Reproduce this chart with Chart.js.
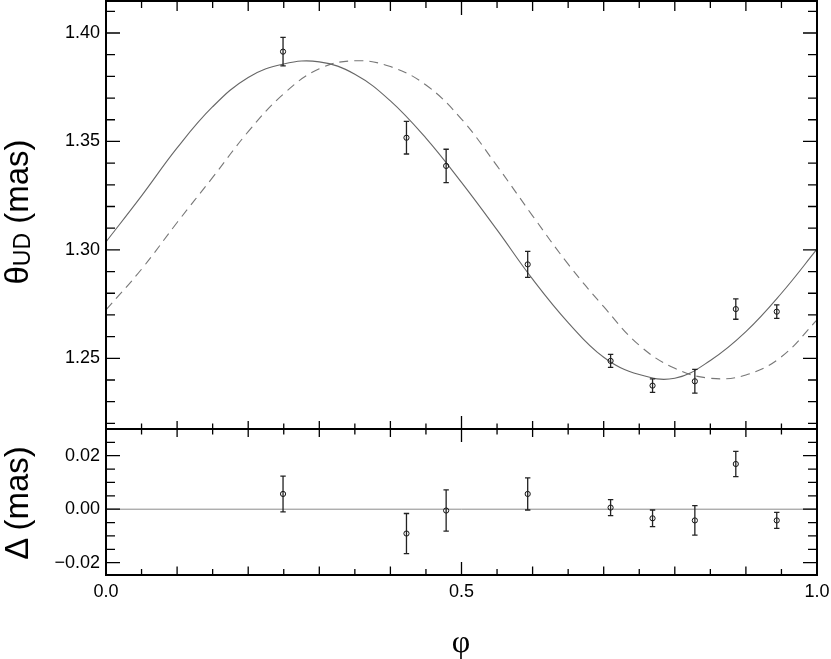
<!DOCTYPE html>
<html>
<head>
<meta charset="utf-8">
<script src="https://cdn.jsdelivr.net/npm/chart.js@4.4.1/dist/chart.umd.min.js"></script>
<style>
  html, body { margin: 0; padding: 0; background: #fff; }
  #wrap { position: relative; width: 831px; height: 659px; overflow: hidden; background: #fff; }
  #wrap canvas { position: absolute; left: 0; top: 0; }
  .ytitle {
    position: absolute; width: 300px; height: 38px; line-height: 38px;
    text-align: center; white-space: nowrap; color: #000;
    font-family: "Liberation Sans", Arial, sans-serif; font-size: 33px;
    transform-origin: 0 0; transform: rotate(-90deg);
  }
  .ytitle .sub { font-size: 23px; position: relative; top: 2px; }
  #xtitle {
    position: absolute; left: 411px; top: 621px; width: 100px; height: 40px; line-height: 40px;
    text-align: center; color: #000;
    font-family: "Liberation Serif", "DejaVu Serif", serif; font-size: 32px;
  }
</style>
</head>
<body>
<div id="wrap">
  <canvas id="panelTop" width="831" height="659"></canvas>
  <canvas id="panelBottom" width="831" height="659"></canvas>
  <div class="ytitle" style="left:-2px; top:362px;">θ<span class="sub">UD</span> (mas)</div>
  <div class="ytitle" style="left:-2px; top:653px;">Δ (mas)</div>
  <div id="xtitle">φ</div>
</div>
<script>
// measured angular diameters
const phase = [0.249, 0.4226, 0.4784, 0.5931, 0.7097, 0.7687, 0.8282, 0.8858, 0.9434];
const diam = [1.3914, 1.3517, 1.3387, 1.2933, 1.2488, 1.2374, 1.2394, 1.2727, 1.2715];
const diamErr = [0.0066, 0.0075, 0.0077, 0.0060, 0.0030, 0.0031, 0.0055, 0.0047, 0.0031];

// residuals
const resid = [0.0057, -0.0091, -0.0005, 0.0057, 0.0006, -0.0034, -0.0042, 0.0169, -0.0042];
const residErr = [0.0067, 0.0075, 0.0077, 0.0060, 0.0030, 0.0031, 0.0055, 0.0047, 0.0030];

// model curves
const curvePhase = [0, 0.05, 0.1, 0.15, 0.2, 0.25, 0.3, 0.35, 0.4, 0.45, 0.5,
  0.55, 0.6, 0.65, 0.7, 0.75, 0.8, 0.85, 0.9, 0.95, 1];
const solidFit = [1.3037, 1.3249, 1.3470, 1.3660, 1.3795, 1.3857, 1.3867, 1.3810, 1.3687, 1.3515, 1.3311,
  1.3092, 1.2865, 1.2665, 1.2505, 1.2425, 1.2408, 1.2490, 1.2623, 1.2800, 1.3003];
const dashedFit = [1.2723, 1.2911, 1.3126, 1.3334, 1.3545, 1.3720, 1.3835, 1.3872, 1.3845, 1.3760, 1.3603,
  1.3387, 1.3157, 1.2934, 1.2738, 1.2560, 1.2454, 1.2408, 1.2423, 1.2507, 1.2677];

// ticks
const xLabels = [0, 0.5, 1];
const xTickMarks = [0.05, 0.1, 0.15, 0.2, 0.25, 0.3, 0.35, 0.4, 0.45, 0.5,
  0.55, 0.6, 0.65, 0.7, 0.75, 0.8, 0.85, 0.9, 0.95];
const topLabels = [1.25, 1.30, 1.35, 1.40];
const topTickMarks = [1.22, 1.23, 1.24, 1.25, 1.26, 1.27, 1.28, 1.29, 1.30, 1.31,
  1.32, 1.33, 1.34, 1.35, 1.36, 1.37, 1.38, 1.39, 1.40, 1.41];
const bottomLabels = [-0.02, 0, 0.02];
const bottomTickMarks = [-0.02, -0.015, -0.01, -0.005, 0, 0.005, 0.01, 0.015, 0.02, 0.025];

const tickFont = { family: "'Liberation Sans', Arial, sans-serif", size: 18 };

function pts(xs, ys) {
  return xs.map((x, i) => ({ x: x, y: ys[i] }));
}

function xTickLen(v, lens) {
  const k = Math.round(v * 20);
  if (k % 10 === 0) return lens[2];
  if (k % 2 === 0) return lens[1];
  return lens[0];
}

// frame with inward ticks on all four sides
function makeFrame(yMarks, yLabels, topLens, bottomLens) {
  return {
    id: "frame",
    afterDraw(chart) {
      const ctx = chart.ctx, a = chart.chartArea;
      const xs = chart.scales.x, ys = chart.scales.y;
      ctx.save();
      ctx.strokeStyle = "#000";
      ctx.lineWidth = 1.3;
      ctx.beginPath();
      yMarks.forEach((v) => {
        const y = ys.getPixelForValue(v);
        const len = yLabels.some((l) => Math.abs(l - v) < 1e-9) ? 14 : 9;
        ctx.moveTo(a.left, y); ctx.lineTo(a.left + len, y);
        ctx.moveTo(a.right, y); ctx.lineTo(a.right - len, y);
      });
      xTickMarks.forEach((v) => {
        const x = xs.getPixelForValue(v);
        ctx.moveTo(x, a.top); ctx.lineTo(x, a.top + xTickLen(v, topLens));
        ctx.moveTo(x, a.bottom); ctx.lineTo(x, a.bottom - xTickLen(v, bottomLens));
      });
      ctx.stroke();
      ctx.lineWidth = 2;
      ctx.strokeRect(a.left, a.top, a.right - a.left, a.bottom - a.top);
      ctx.restore();
    }
  };
}

function makeErrorBars(xv, yv, ev) {
  return {
    id: "errorBars",
    afterDatasetsDraw(chart) {
      const ctx = chart.ctx, xs = chart.scales.x, ys = chart.scales.y;
      ctx.save();
      ctx.strokeStyle = "#222";
      ctx.lineWidth = 1.3;
      ctx.beginPath();
      xv.forEach((v, i) => {
        const px = xs.getPixelForValue(v);
        const lo = ys.getPixelForValue(yv[i] - ev[i]);
        const hi = ys.getPixelForValue(yv[i] + ev[i]);
        ctx.moveTo(px, lo); ctx.lineTo(px, hi);
        ctx.moveTo(px - 2.7, lo); ctx.lineTo(px + 2.7, lo);
        ctx.moveTo(px - 2.7, hi); ctx.lineTo(px + 2.7, hi);
      });
      ctx.stroke();
      ctx.restore();
    }
  };
}

const zeroLine = {
  id: "zeroLine",
  beforeDatasetsDraw(chart) {
    const ctx = chart.ctx, a = chart.chartArea;
    const y = chart.scales.y.getPixelForValue(0);
    ctx.save();
    ctx.strokeStyle = "#8a8a8a";
    ctx.lineWidth = 1;
    ctx.beginPath();
    ctx.moveTo(a.left, y); ctx.lineTo(a.right, y);
    ctx.stroke();
    ctx.restore();
  }
};

function yAxis(min, max, labels, fmt) {
  return {
    type: "linear",
    min: min,
    max: max,
    grid: { display: false, drawTicks: false },
    border: { display: false },
    ticks: { color: "#000", font: tickFont, padding: 6, callback: fmt },
    afterBuildTicks: (s) => { s.ticks = labels.map((v) => ({ value: v })); },
    afterFit: (s) => { s.width = 106; s.paddingTop = 0; s.paddingBottom = 0; }
  };
}

const pointStyle = {
  showLine: false,
  pointRadius: 2.6,
  pointBorderWidth: 1,
  pointBorderColor: "#111",
  pointBackgroundColor: "rgba(255,255,255,0)"
};

// upper panel: diameters and model curves
new Chart(document.getElementById("panelTop"), {
  type: "scatter",
  data: {
    datasets: [
      Object.assign({ label: "θUD", data: pts(phase, diam) }, pointStyle),
      { label: "fit", data: pts(curvePhase, solidFit), showLine: true, borderColor: "#666",
        borderWidth: 1.1, pointRadius: 0, tension: 0.4 },
      { label: "shifted", data: pts(curvePhase, dashedFit), showLine: true, borderColor: "#777",
        borderWidth: 1.1, borderDash: [9, 6], pointRadius: 0, tension: 0.4 }
    ]
  },
  options: {
    responsive: false,
    animation: false,
    events: [],
    layout: { autoPadding: false, padding: { left: 0, right: 14, top: 1, bottom: 230 } },
    scales: {
      x: { type: "linear", min: 0, max: 1, display: false },
      y: yAxis(1.2174, 1.41475, topLabels, (v) => v.toFixed(2))
    },
    plugins: { legend: { display: false }, tooltip: { enabled: false } }
  },
  plugins: [makeErrorBars(phase, diam, diamErr), makeFrame(topTickMarks, topLabels, [7, 10, 14], [5.5, 8, 13])]
});

// lower panel: residuals
new Chart(document.getElementById("panelBottom"), {
  type: "scatter",
  data: {
    datasets: [Object.assign({ label: "Δ", data: pts(phase, resid) }, pointStyle)]
  },
  options: {
    responsive: false,
    animation: false,
    events: [],
    layout: { autoPadding: false, padding: { left: 0, right: 14, top: 429, bottom: 54 } },
    scales: {
      x: {
        type: "linear",
        min: 0,
        max: 1,
        grid: { display: false, drawTicks: false },
        border: { display: false },
        ticks: { color: "#000", font: tickFont, padding: 6, maxRotation: 0, callback: (v) => v.toFixed(1) },
        afterBuildTicks: (s) => { s.ticks = xLabels.map((v) => ({ value: v })); },
        afterFit: (s) => { s.height = 30; s.paddingLeft = 0; s.paddingRight = 0; }
      },
      y: yAxis(-0.0246, 0.02998, bottomLabels,
        (v) => (v < 0 ? "\u2212" : "") + Math.abs(v).toFixed(2))
    },
    plugins: { legend: { display: false }, tooltip: { enabled: false } }
  },
  plugins: [zeroLine, makeErrorBars(phase, resid, residErr), makeFrame(bottomTickMarks, bottomLabels, [5.5, 8, 13], [6, 8.5, 13])]
});
</script>
</body>
</html>
